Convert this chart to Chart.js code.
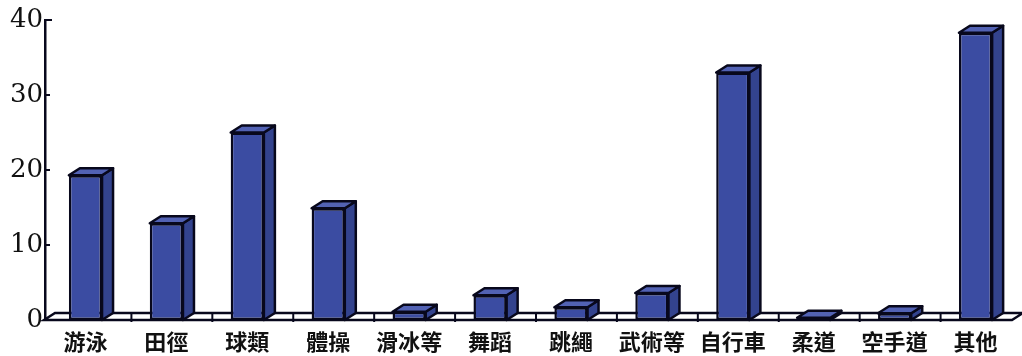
<!DOCTYPE html>
<html>
<head>
<meta charset="utf-8">
<script src="https://cdn.jsdelivr.net/npm/chart.js@4/dist/chart.umd.min.js"></script>
<style>
  html, body { margin: 0; padding: 0; background: #fff; }
  #wrap { width: 1022px; height: 356px; }
</style>
</head>
<body>
<div id="wrap"><canvas id="sportChart"></canvas></div>
<script>
// 種目ごとの値
const sports = ['游泳', '田徑', '球類', '體操', '滑冰等', '舞蹈', '跳繩', '武術等', '自行車', '柔道', '空手道', '其他'];
const counts = [19.3, 12.9, 25, 14.9, 1.1, 3.3, 1.7, 3.6, 33, 0.3, 0.9, 38.3];
const yTicks = [0, 10, 20, 30, 40];

// 立体表示の奥行き
const DEPTH_X = 11;
const DEPTH_Y = 7;
const EDGE = '#08081c';

// 床面と目盛り線
const floorPlugin = {
    id: 'floor3d',
    beforeDatasetsDraw(chart) {
        const ctx = chart.ctx;
        const x = chart.scales.x;
        const y = chart.scales.y;
        const base = y.getPixelForValue(0);
        const left = chart.chartArea.left - 1;
        const right = chart.chartArea.right - 4;
        ctx.save();
        ctx.fillStyle = '#fff';
        ctx.strokeStyle = EDGE;
        ctx.lineWidth = 2.5;
        ctx.beginPath();
        ctx.moveTo(left, base);
        ctx.lineTo(left + DEPTH_X, base - DEPTH_Y);
        ctx.lineTo(right + DEPTH_X, base - DEPTH_Y);
        ctx.lineTo(right, base);
        ctx.closePath();
        ctx.fill();
        ctx.stroke();
        // 区切り
        ctx.lineWidth = 2;
        for (let i = 1; i < sports.length; i++) {
            const bx = (x.getPixelForTick(i - 1) + x.getPixelForTick(i)) / 2 + DEPTH_X / 2;
            ctx.beginPath();
            ctx.moveTo(bx, base + 2);
            ctx.lineTo(bx, base - DEPTH_Y);
            ctx.stroke();
        }
        // 縦軸の内向き目盛り
        ctx.lineWidth = 2;
        yTicks.forEach(v => {
            const py = y.getPixelForValue(v);
            ctx.beginPath();
            ctx.moveTo(chart.chartArea.left, py);
            ctx.lineTo(chart.chartArea.left + (v === 40 ? 7 : 5), py);
            ctx.stroke();
        });
        ctx.restore();
    },
    afterDatasetsDraw(chart) {
        const ctx = chart.ctx;
        const meta = chart.getDatasetMeta(0);
        ctx.save();
        ctx.strokeStyle = EDGE;
        ctx.lineWidth = 2.5;
        ctx.lineJoin = 'round';
        meta.data.forEach(bar => {
            const l = bar.x - bar.width / 2;
            const r = bar.x + bar.width / 2;
            const top = bar.y;
            const base = bar.base;
            // 側面
            ctx.fillStyle = '#33438e';
            ctx.beginPath();
            ctx.moveTo(r, top);
            ctx.lineTo(r + DEPTH_X, top - DEPTH_Y);
            ctx.lineTo(r + DEPTH_X, base - DEPTH_Y);
            ctx.lineTo(r, base);
            ctx.closePath();
            ctx.fill();
            ctx.stroke();
            // 上面
            ctx.fillStyle = '#5262b4';
            ctx.beginPath();
            ctx.moveTo(l, top);
            ctx.lineTo(l + DEPTH_X, top - DEPTH_Y);
            ctx.lineTo(r + DEPTH_X, top - DEPTH_Y);
            ctx.lineTo(r, top);
            ctx.closePath();
            ctx.fill();
            ctx.stroke();
        });
        ctx.restore();
    }
};

new Chart(document.getElementById('sportChart'), {
    type: 'bar',
    data: {
        labels: sports,
        datasets: [{
            data: counts,
            backgroundColor: '#3b4ca2',
            borderColor: EDGE,
            borderWidth: 2.5,
            borderSkipped: false,
            barPercentage: 0.41,
            categoryPercentage: 1
        }]
    },
    options: {
        responsive: true,
        maintainAspectRatio: false,
        animation: false,
        layout: { padding: { top: 20, right: 6, left: 0, bottom: 0 } },
        plugins: {
            legend: { display: false },
            tooltip: { enabled: false }
        },
        scales: {
            x: {
                grid: { display: false, drawTicks: false },
                border: { display: false },
                ticks: {
                    color: '#111',
                    padding: 8,
                    maxRotation: 0,
                    autoSkip: false,
                    font: { family: '"Noto Sans CJK TC", "Noto Sans CJK JP", sans-serif', size: 22, weight: 'bold' }
                },
                afterFit(scale) { scale.height = 36; }
            },
            y: {
                min: 0,
                max: 40,
                grid: { display: false, drawTicks: false },
                border: { display: true, color: EDGE, width: 2.5 },
                afterBuildTicks(scale) { scale.ticks = yTicks.map(v => ({ value: v })); },
                ticks: {
                    color: '#111',
                    padding: 2,
                    font: { family: '"DejaVu Serif", serif', size: 26 }
                },
                afterFit(scale) { scale.width = 45; }
            }
        }
    },
    plugins: [floorPlugin]
});
</script>
</body>
</html>
